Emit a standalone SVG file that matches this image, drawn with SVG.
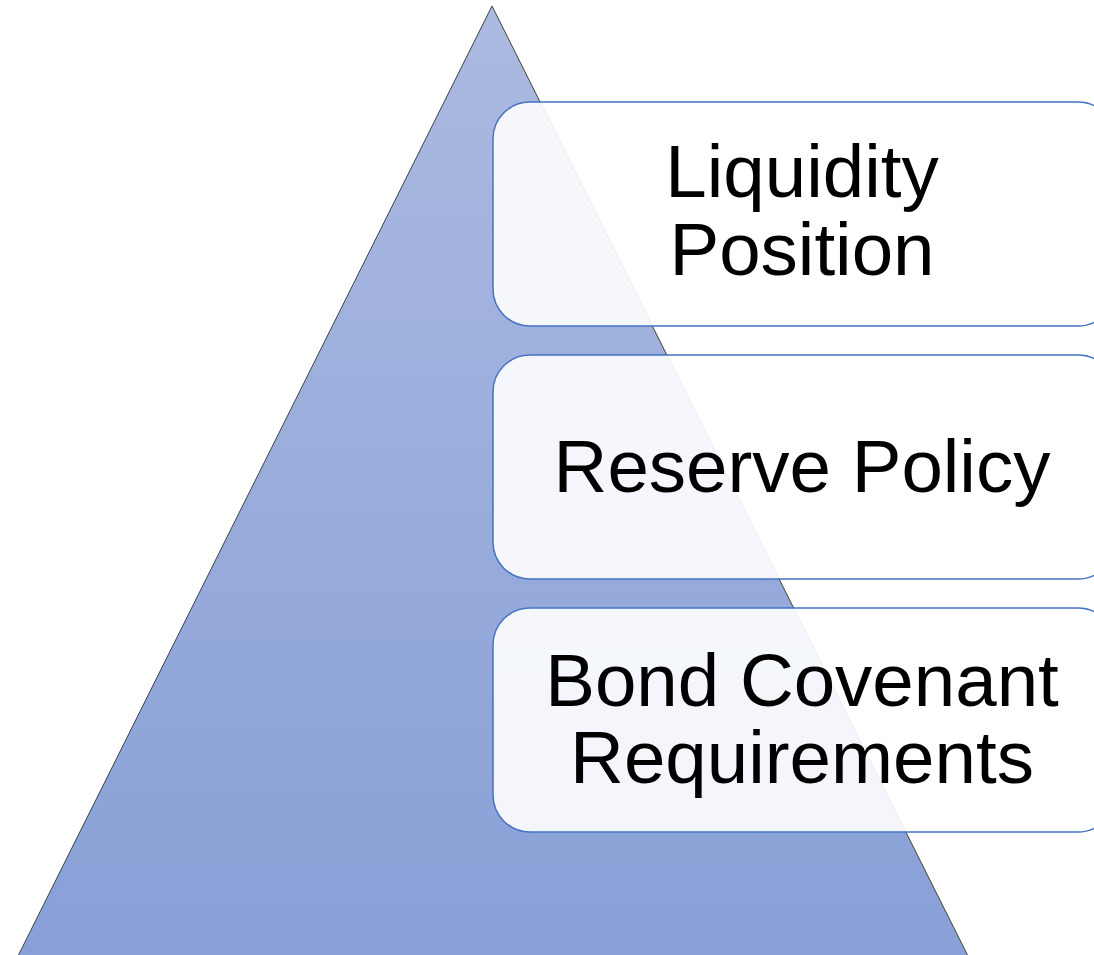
<svg xmlns="http://www.w3.org/2000/svg" width="1094" height="955" viewBox="0 0 1094 955">
  <defs>
    <linearGradient id="pyramidFill" x1="0" y1="0" x2="0" y2="1">
      <stop offset="0" stop-color="#abbae0"/>
      <stop offset="1" stop-color="#88a0d7"/>
    </linearGradient>
    <style>
      .tier { fill: #ffffff; fill-opacity: 0.9; stroke: #4472c4; stroke-width: 1.5; }
      .label { font-family: "Liberation Sans", Arial, sans-serif; font-size: 74.5px; fill: #000000; text-anchor: middle; }
    </style>
  </defs>
  <rect width="1094" height="955" fill="#ffffff"/>

  <!-- background pyramid -->
  <g id="pyramid">
    <polygon points="492,6 968,956 18,956" fill="url(#pyramidFill)" stroke="#404040" stroke-width="1"/>
  </g>

  <!-- tier cards, extending past the right edge -->
  <g id="liquidity-position">
    <rect class="tier" x="493" y="102" width="622" height="224" rx="37" ry="37"/>
    <text class="label" x="802" y="197">Liquidity</text>
    <text class="label" x="802" y="275">Position</text>
  </g>

  <g id="reserve-policy">
    <rect class="tier" x="493" y="355" width="622" height="224" rx="37" ry="37"/>
    <text class="label" x="802" y="492">Reserve Policy</text>
  </g>

  <g id="bond-covenant-requirements">
    <rect class="tier" x="493" y="608" width="622" height="224" rx="37" ry="37"/>
    <text class="label" x="802" y="706">Bond Covenant</text>
    <text class="label" x="802" y="783">Requirements</text>
  </g>

  <g id="connectors"/>
</svg>
